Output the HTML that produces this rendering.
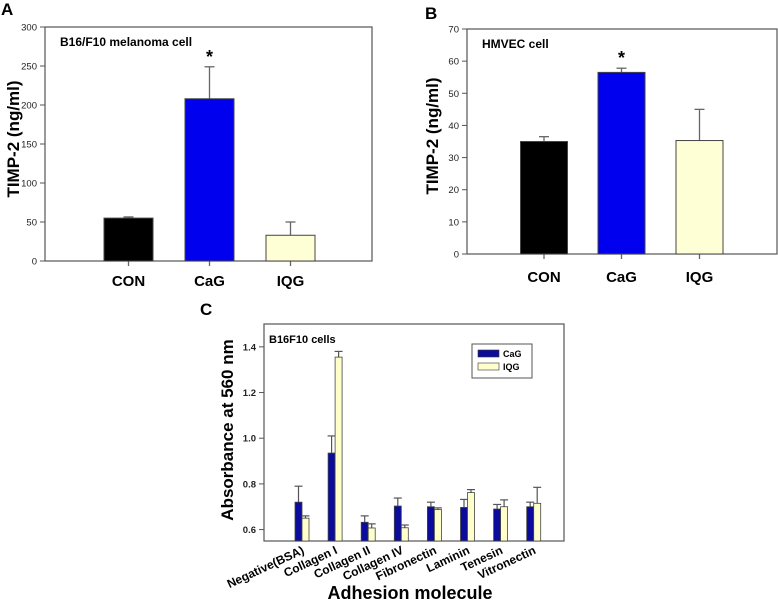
<!DOCTYPE html>
<html><head><meta charset="utf-8"><style>
html,body{margin:0;padding:0;background:#fff;}
svg{display:block;font-family:"Liberation Sans",Arial,sans-serif;}
</style></head><body>
<svg id="fig" width="778" height="605" viewBox="0 0 778 605"></svg>
<script>
const catsAB = ["CON","CaG","IQG"];
const valsA = [55, 208, 33];
const errA = [56.5, 249, 50];
const ticksA = [0,50,100,150,200,250,300];
const valsB = [35, 56.5, 35.3];
const errB = [36.5, 57.8, 45];
const ticksB = [0,10,20,30,40,50,60,70];
const catsC = ["Negative(BSA)","Collagen I","Collagen II","Collagen IV","Fibronectin","Laminin","Tenesin","Vitronectin"];
const cagC = [0.72,0.935,0.632,0.703,0.70,0.697,0.69,0.70];
const cagErrC = [0.79,1.01,0.66,0.738,0.72,0.732,0.71,0.72];
const iqgC = [0.65,1.355,0.607,0.608,0.688,0.762,0.70,0.715];
const iqgErrC = [0.66,1.38,0.625,0.62,0.695,0.775,0.73,0.785];
const ticksC = [0.6,0.8,1.0,1.2,1.4];

const NS="http://www.w3.org/2000/svg";
const svg=document.getElementById('fig');
function mk(tag,attrs,parent,text){const e=document.createElementNS(NS,tag);for(const k in attrs)e.setAttribute(k,attrs[k]);if(text!==undefined)e.textContent=text;(parent||svg).appendChild(e);return e;}

function barPanel(o){
  const g=mk('g',{});
  
  
  const y=v=>o.y1-(v-o.ymin)/(o.ymax-o.ymin)*(o.y1-o.y0);
  const box=mk('rect',{x:o.x0,y:o.y0,width:o.x1-o.x0,height:o.y1-o.y0,fill:'none',stroke:'#555','stroke-width':1.2},g);
  
  o.ticks.forEach(t=>{
    const ty=y(t);
    const l=mk('line',{x1:o.x0-5,x2:o.x0,y1:ty,y2:ty,stroke:'#555'},g);
    
    const tx=mk('text',{x:o.x0-8,y:ty+3.5,'font-size':9.5,'text-anchor':'end',fill:'#222'},g,String(t));
    
  });
  const n=o.cats.length, w=o.x1-o.x0;
  const cols=['#000','#0000ee','#ffffd6'];
  o.cats.forEach((c,i)=>{
    const cx=o.cx[i];
    const bt=y(o.vals[i]), et=y(o.errs[i]);
    const eb=mk('line',{x1:cx,x2:cx,y1:et,y2:o.y1+5,stroke:'#666','stroke-width':1.3},g);
    
    const cap=mk('line',{x1:cx-5,x2:cx+5,y1:et,y2:et,stroke:'#666','stroke-width':1.3},g);
    
    const b=mk('rect',{x:cx-o.bw/2,y:bt,width:o.bw,height:o.y1-bt,fill:cols[i],stroke:'#444','stroke-width':1},g);
    
    const lb=mk('text',{x:cx,y:o.labY,'font-size':15,'font-weight':'bold','text-anchor':'middle'},g,c);
    
  });
  const st=mk('text',{x:o.cx[1],y:y(o.errs[1])-4,'font-size':18,'font-weight':'bold','text-anchor':'middle'},g,'*');
  
  const ti=mk('text',{x:o.x0+15,y:o.y0+19,'font-size':12,'font-weight':'bold'},g,o.title);
  
  const yt=mk('text',{x:0,y:0,transform:`translate(${o.ytx},${o.yty}) rotate(-90)`,'font-size':17,'font-weight':'bold','text-anchor':'middle'},g,'TIMP-2 (ng/ml)');
  
  const pl=mk('text',{x:o.lx,y:o.ly,'font-size':17,'font-weight':'bold'},g,o.letter);
  
}
barPanel({name:'panel-a',x0:45,x1:372,y0:27,y1:261,ymin:0,ymax:300,ticks:ticksA,cats:catsAB,vals:valsA,errs:errA,cx:[128.5,209.5,290.5],bw:49,labY:286,title:'B16/F10 melanoma cell',ytx:19,yty:139,letter:'A',lx:1,ly:15});
barPanel({name:'panel-b',x0:467,x1:777,y0:29,y1:254,ymin:0,ymax:70,ticks:ticksB,cats:catsAB,vals:valsB,errs:errB,cx:[544,621.5,699.5],bw:47,labY:282,title:'HMVEC cell',ytx:438,yty:136,letter:'B',lx:425,ly:19});

// Panel C
(function(){
  const g=mk('g',{});
  
  
  const x0=264,x1=564,y0=324,y1=541,ymin=0.55,ymax=1.5;
  const y=v=>y1-(v-ymin)/(ymax-ymin)*(y1-y0);
  const gx=i=>302+i*33.1;
  const box=mk('rect',{x:x0,y:y0,width:x1-x0,height:y1-y0,fill:'none',stroke:'#555','stroke-width':1.2},g);
  
  ticksC.forEach(t=>{
    const ty=y(t);
    const l=mk('line',{x1:x0-5,x2:x0,y1:ty,y2:ty,stroke:'#555'},g);
    
    const tx=mk('text',{x:x0-8,y:ty+3.5,'font-size':9.5,'font-weight':'bold','text-anchor':'end',fill:'#222'},g,t.toFixed(1));
    
  });
  const bw=7;
  catsC.forEach((c,i)=>{
    const cx=gx(i);
    [[cagC,cagErrC,'#0c0c9c',cx-bw,'cag'],[iqgC,iqgErrC,'#ffffcc',cx,'iqg']].forEach(s=>{
      const v=s[0][i],e=s[1][i],bx=s[3];
      const eb=mk('line',{x1:bx+bw/2,x2:bx+bw/2,y1:y(e),y2:y(v),stroke:'#555','stroke-width':1.2},g);
      
      const cap=mk('line',{x1:bx+bw/2-4,x2:bx+bw/2+4,y1:y(e),y2:y(e),stroke:'#555','stroke-width':1.2},g);
      
      const b=mk('rect',{x:bx,y:y(v),width:bw,height:y1-y(v),fill:s[2],stroke:'#444','stroke-width':0.8},g);
      
    });
    const lb=mk('text',{x:0,y:0,transform:`translate(${cx+3},${553}) rotate(-25)`,'font-size':12,'font-weight':'bold','text-anchor':'end'},g,c);
    
  });
  const ti=mk('text',{x:269,y:343,'font-size':11,'font-weight':'bold'},g,'B16F10 cells');
  
  const lg=mk('g',{},g);
  
  mk('rect',{x:472,y:344,width:60,height:34,fill:'#fff',stroke:'#555'},lg);
  const l1=mk('rect',{x:478,y:350,width:21,height:7,fill:'#0c0c9c',stroke:'#333','stroke-width':0.6},lg);
  
  const t1=mk('text',{x:503,y:357,'font-size':9,'font-weight':'bold'},lg,'CaG');
  
  const l2=mk('rect',{x:478,y:363,width:21,height:7,fill:'#ffffcc',stroke:'#333','stroke-width':0.6},lg);
  
  const t2=mk('text',{x:503,y:370,'font-size':9,'font-weight':'bold'},lg,'IQG');
  
  const yt=mk('text',{x:0,y:0,transform:'translate(233,430) rotate(-90)','font-size':17,'font-weight':'bold','text-anchor':'middle'},g,'Absorbance at 560 nm');
  
  const xt=mk('text',{x:410,y:599,'font-size':18,'font-weight':'bold','text-anchor':'middle'},g,'Adhesion molecule');
  
  const pl=mk('text',{x:200,y:315,'font-size':17,'font-weight':'bold'},g,'C');
  
})();
</script>
</body></html>
